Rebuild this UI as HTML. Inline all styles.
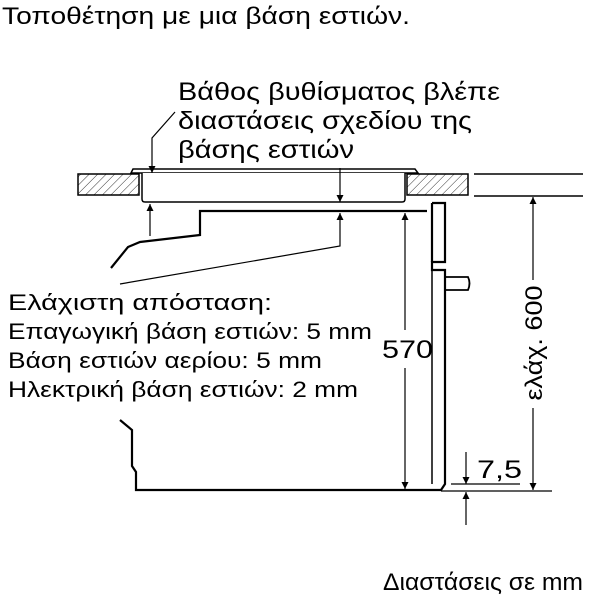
<!DOCTYPE html>
<html><head><meta charset="utf-8"><style>
html,body{margin:0;padding:0;background:#fff;}
svg{display:block;}
text{font-family:"Liberation Sans","DejaVu Sans",sans-serif;fill:#000;}
</style></head><body>
<svg width="600" height="600" viewBox="0 0 600 600" xmlns="http://www.w3.org/2000/svg">
<defs>
<pattern id="h" patternUnits="userSpaceOnUse" width="6" height="6" patternTransform="rotate(45)">
<line x1="0" y1="0" x2="0" y2="6" stroke="#000" stroke-width="0.8"/>
</pattern>
<marker id="a" viewBox="0 0 10 10" refX="10" refY="5" markerWidth="7" markerHeight="7" orient="auto-start-reverse" markerUnits="userSpaceOnUse">
<path d="M0,0 L10,5 L0,10 z" fill="#000"/>
</marker>
</defs>
<text x="2" y="24" font-size="24" textLength="408" lengthAdjust="spacingAndGlyphs">Τοποθέτηση με μια βάση εστιών.</text>
<text x="178" y="100" font-size="25" textLength="322" lengthAdjust="spacingAndGlyphs">Βάθος βυθίσματος βλέπε</text>
<text x="178" y="129" font-size="25" textLength="294" lengthAdjust="spacingAndGlyphs">διαστάσεις σχεδίου της</text>
<text x="178" y="158" font-size="25" textLength="176" lengthAdjust="spacingAndGlyphs">βάσης εστιών</text>

<g stroke="#000" fill="none" stroke-width="1.5">
<rect x="78" y="174" width="61" height="21" fill="url(#h)"/>
<rect x="407" y="174" width="61" height="21" fill="url(#h)"/>
<path d="M131,173 L133,169 L415,169 L418,173 Z" fill="#fff"/>
<path d="M142,173 L142,199 Q142,202 145,202 L402,202 Q405,202 405,199 L405,173" fill="#fff"/>
<line x1="474" y1="174" x2="583" y2="174"/>
<line x1="474" y1="196" x2="583" y2="196"/>
<polyline points="175,112 152,138 152,173" stroke-width="1.2" marker-end="url(#a)"/>
<line x1="150" y1="236" x2="150" y2="204" stroke-width="1.2" marker-end="url(#a)"/>
<line x1="340" y1="168" x2="340" y2="202" stroke-width="1.2" marker-end="url(#a)"/>
<polyline points="120,284 340,246 340,213" stroke-width="1.2" marker-end="url(#a)"/>
<polyline points="427,211 200,211 200,235 140,242 128,247 111,268" stroke-width="2.2"/>
<path d="M432,203 L445,203 L445,262 L432,262 L432,270 L445,270 L445,484 L441,490 L136,490 L136,472 L132,466 L132,430 L120,420" stroke-width="2.2"/>
<line x1="432" y1="203" x2="432" y2="262" stroke-width="2.2"/>
<line x1="432" y1="270" x2="432" y2="484" stroke-width="1.5"/>
<path d="M445,277 L468,277 Q471,283 468,290 L445,290" stroke-width="1.8"/>
<line x1="405" y1="330" x2="405" y2="213" stroke-width="1.2" marker-end="url(#a)"/>
<line x1="405" y1="368" x2="405" y2="489" stroke-width="1.2" marker-end="url(#a)"/>
<line x1="533" y1="280" x2="533" y2="197" stroke-width="1.2" marker-end="url(#a)"/>
<line x1="533" y1="408" x2="533" y2="490" stroke-width="1.2" marker-end="url(#a)"/>
<line x1="451" y1="484" x2="520" y2="484" stroke-width="1.2"/>
<line x1="441" y1="491" x2="552" y2="491" stroke-width="1.2"/>
<line x1="466" y1="452" x2="466" y2="484" stroke-width="1.2" marker-end="url(#a)"/>
<line x1="466" y1="525" x2="466" y2="492" stroke-width="1.2" marker-end="url(#a)"/>
</g>

<text x="8" y="310" font-size="22" textLength="264" lengthAdjust="spacingAndGlyphs">Ελάχιστη απόσταση:</text>
<text x="8" y="339" font-size="22" textLength="364" lengthAdjust="spacingAndGlyphs">Επαγωγική βάση εστιών: 5 mm</text>
<text x="8" y="368" font-size="22" textLength="314" lengthAdjust="spacingAndGlyphs">Βάση εστιών αερίου: 5 mm</text>
<text x="8" y="397" font-size="22" textLength="350" lengthAdjust="spacingAndGlyphs">Ηλεκτρική βάση εστιών: 2 mm</text>
<text x="382" y="358" font-size="25" textLength="51" lengthAdjust="spacingAndGlyphs">570</text>
<text x="477" y="478" font-size="25" textLength="45" lengthAdjust="spacingAndGlyphs">7,5</text>
<text transform="translate(542,343) rotate(-90)" text-anchor="middle" font-size="24" textLength="115" lengthAdjust="spacingAndGlyphs">ελάχ. 600</text>
<text x="383" y="590" font-size="24" textLength="200" lengthAdjust="spacingAndGlyphs">Διαστάσεις σε mm</text>
</svg>
</body></html>
